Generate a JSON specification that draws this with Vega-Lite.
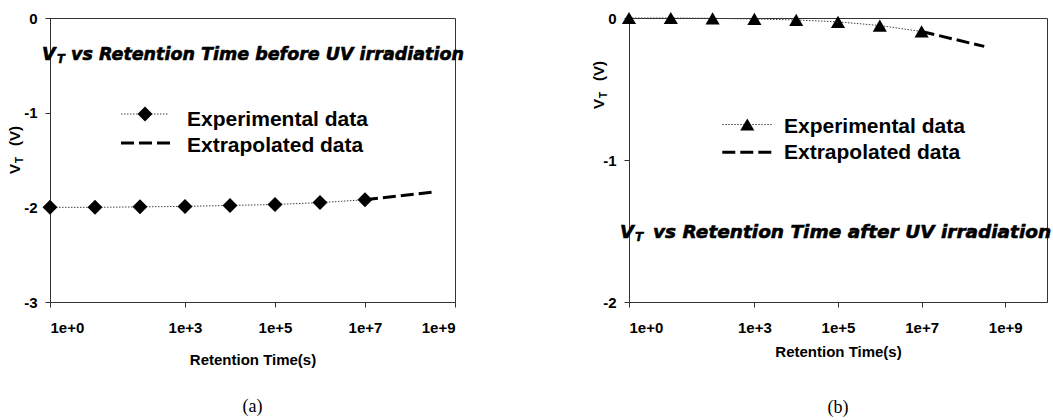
{
  "$schema": "https://vega.github.io/schema/vega-lite/v6.json",
  "background": "white",
  "padding": {"left": 7, "top": 10, "right": 0, "bottom": 0},
  "spacing": 174,
  "bounds": "flush",
  "config": {
    "view": {"stroke": "#333", "strokeWidth": 1},
    "axis": {
      "grid": false, "domainColor": "#333", "tickColor": "#333", "tickSize": 5,
      "labelFont": "Liberation Sans", "labelFontSize": 15, "labelFontWeight": "bold", "labelColor": "black",
      "titleFont": "Liberation Sans", "titleFontSize": 15, "titleFontWeight": "bold", "titleColor": "black"
    },
    "axisX": {"labelPadding": 13, "titlePadding": 17},
    "axisY": {"labelPadding": 8}
  },
  "datasets": {
    "a": [
      {"t": 1, "vt": -2.0, "series": "Experimental"},
      {"t": 10, "vt": -2.0, "series": "Experimental"},
      {"t": 100, "vt": -1.995, "series": "Experimental"},
      {"t": 1000, "vt": -1.99, "series": "Experimental"},
      {"t": 10000, "vt": -1.98, "series": "Experimental"},
      {"t": 100000, "vt": -1.97, "series": "Experimental"},
      {"t": 1000000, "vt": -1.95, "series": "Experimental"},
      {"t": 10000000, "vt": -1.92, "series": "Experimental"},
      {"t": 10000000, "vt": -1.92, "series": "Extrapolated"},
      {"t": 315000000, "vt": -1.84, "series": "Extrapolated"}
    ],
    "b": [
      {"t": 1, "vt": 0, "series": "Experimental"},
      {"t": 10, "vt": 0, "series": "Experimental"},
      {"t": 100, "vt": -0.002, "series": "Experimental"},
      {"t": 1000, "vt": -0.007, "series": "Experimental"},
      {"t": 10000, "vt": -0.014, "series": "Experimental"},
      {"t": 100000, "vt": -0.027, "series": "Experimental"},
      {"t": 1000000, "vt": -0.053, "series": "Experimental"},
      {"t": 10000000, "vt": -0.095, "series": "Experimental"},
      {"t": 10000000, "vt": -0.095, "series": "Extrapolated"},
      {"t": 315000000, "vt": -0.2, "series": "Extrapolated"}
    ],
    "one": [{"t": 1, "vt": 0}]
  },
  "hconcat": [
    {
      "width": 405, "height": 284,
      "data": {"name": "a"},
      "title": {"text": "(a)", "orient": "bottom", "frame": "group", "anchor": "middle", "font": "Liberation Serif", "fontSize": 18, "fontWeight": "normal", "color": "black", "offset": 31},
      "encoding": {
        "x": {"field": "t", "type": "quantitative", "scale": {"type": "log", "domain": [1, 1000000000]},
              "axis": {"values": [1, 1000, 100000, 10000000, 1000000000], "labelExpr": "'1e+' + round(log(datum.value)/LN10)", "title": "Retention Time(s)"}},
        "y": {"field": "vt", "type": "quantitative", "scale": {"domain": [-3, 0]},
              "axis": {"values": [-3, -2, -1, 0], "labelExpr": "'' + datum.value", "title": null}}
      },
      "layer": [
        {"transform": [{"filter": "datum.series == 'Experimental'"}],
         "mark": {"type": "line", "strokeDash": [1.5, 1.5], "color": "#444", "strokeWidth": 1}},
        {"transform": [{"filter": "datum.series == 'Extrapolated'"}],
         "mark": {"type": "line", "strokeDash": [13, 5], "color": "black", "strokeWidth": 3}},
        {"transform": [{"filter": "datum.series == 'Experimental'"}],
         "mark": {"type": "point", "shape": "diamond", "filled": true, "color": "black", "size": 225, "opacity": 1}},
        {"data": {"name": "one"},
         "mark": {"type": "rule", "strokeDash": [1.5, 1.5], "color": "#444", "strokeWidth": 1},
         "encoding": {"x": {"datum": 37.8}, "x2": {"datum": 441}, "y": {"datum": -1.014}}},
        {"data": {"name": "one"},
         "mark": {"type": "point", "shape": "diamond", "filled": true, "color": "black", "size": 225, "opacity": 1},
         "encoding": {"x": {"datum": 129}, "y": {"datum": -1.014}}},
        {"data": {"name": "one"},
         "mark": {"type": "rule", "strokeDash": [13, 5], "color": "black", "strokeWidth": 3},
         "encoding": {"x": {"datum": 37.8}, "x2": {"datum": 489}, "y": {"datum": -1.32}}},
        {"data": {"name": "one"},
         "mark": {"type": "text", "text": "Experimental data", "align": "left", "baseline": "alphabetic", "font": "Liberation Sans", "fontWeight": "bold", "fontSize": 21, "color": "black"},
         "encoding": {"x": {"datum": 1108}, "y": {"datum": -1.144}}},
        {"data": {"name": "one"},
         "mark": {"type": "text", "text": "Extrapolated data", "align": "left", "baseline": "alphabetic", "font": "Liberation Sans", "fontWeight": "bold", "fontSize": 21, "color": "black"},
         "encoding": {"x": {"datum": 1108}, "y": {"datum": -1.419}}},
        {"data": {"name": "one"},
         "mark": {"type": "text", "text": "V", "align": "left", "baseline": "alphabetic", "dx": -8, "font": "DejaVu Sans", "fontWeight": "bold", "fontStyle": "italic", "fontSize": 17.5, "color": "black", "stroke": "black", "strokeWidth": 0.6},
         "encoding": {"x": {"datum": 1}, "y": {"datum": -0.444}}},
        {"data": {"name": "one"},
         "mark": {"type": "text", "text": "T", "align": "left", "baseline": "alphabetic", "dx": 7, "dy": 3, "font": "DejaVu Sans", "fontWeight": "bold", "fontStyle": "italic", "fontSize": 11.5, "color": "black", "stroke": "black", "strokeWidth": 0.4},
         "encoding": {"x": {"datum": 1}, "y": {"datum": -0.444}}},
        {"data": {"name": "one"},
         "mark": {"type": "text", "text": "vs Retention Time before UV irradiation", "align": "left", "baseline": "alphabetic", "dx": 21, "font": "DejaVu Sans", "fontWeight": "bold", "fontStyle": "italic", "fontSize": 17.5, "color": "black", "stroke": "black", "strokeWidth": 0.6},
         "encoding": {"x": {"datum": 1}, "y": {"datum": -0.444}}},
        {"data": {"name": "one"},
         "mark": {"type": "text", "text": "V", "angle": 270, "align": "left", "baseline": "alphabetic", "font": "Liberation Sans", "fontWeight": "bold", "fontSize": 15, "color": "black"},
         "encoding": {"x": {"datum": 0.2154}, "y": {"datum": -1.648}}},
        {"data": {"name": "one"},
         "mark": {"type": "text", "text": "T", "angle": 270, "align": "left", "baseline": "alphabetic", "dx": 11, "dy": 3, "font": "Liberation Sans", "fontWeight": "bold", "fontSize": 10, "color": "black"},
         "encoding": {"x": {"datum": 0.2154}, "y": {"datum": -1.648}}},
        {"data": {"name": "one"},
         "mark": {"type": "text", "text": "(V)", "angle": 270, "align": "left", "baseline": "alphabetic", "dx": 28, "font": "Liberation Sans", "fontWeight": "bold", "fontSize": 15, "color": "black"},
         "encoding": {"x": {"datum": 0.2154}, "y": {"datum": -1.648}}}
      ]
    },
    {
      "width": 418, "height": 284,
      "data": {"name": "b"},
      "title": {"text": "(b)", "orient": "bottom", "frame": "group", "anchor": "middle", "font": "Liberation Serif", "fontSize": 18, "fontWeight": "normal", "color": "black", "offset": 40},
      "encoding": {
        "x": {"field": "t", "type": "quantitative", "scale": {"type": "log", "domain": [1, 10000000000]},
              "axis": {"values": [1, 1000, 100000, 10000000, 1000000000], "labelExpr": "'1e+' + round(log(datum.value)/LN10)", "title": "Retention Time(s)", "titlePadding": 9}},
        "y": {"field": "vt", "type": "quantitative", "scale": {"domain": [-2, 0]},
              "axis": {"values": [-2, -1, 0], "labelExpr": "'' + datum.value", "title": null}}
      },
      "layer": [
        {"transform": [{"filter": "datum.series == 'Experimental'"}],
         "mark": {"type": "line", "strokeDash": [1.5, 1.5], "color": "#444", "strokeWidth": 1}},
        {"transform": [{"filter": "datum.series == 'Extrapolated'"}],
         "mark": {"type": "line", "strokeDash": [13, 5], "color": "black", "strokeWidth": 3}},
        {"transform": [{"filter": "datum.series == 'Experimental'"}],
         "mark": {"type": "point", "shape": "triangle-up", "filled": true, "color": "black", "size": 200, "opacity": 1}},
        {"data": {"name": "one"},
         "mark": {"type": "rule", "strokeDash": [1.5, 1.5], "color": "#444", "strokeWidth": 1},
         "encoding": {"x": {"datum": 170.6}, "x2": {"datum": 2680}, "y": {"datum": -0.75}}},
        {"data": {"name": "one"},
         "mark": {"type": "point", "shape": "triangle-up", "filled": true, "color": "black", "size": 200, "opacity": 1},
         "encoding": {"x": {"datum": 676}, "y": {"datum": -0.75}}},
        {"data": {"name": "one"},
         "mark": {"type": "rule", "strokeDash": [13, 5], "color": "black", "strokeWidth": 3},
         "encoding": {"x": {"datum": 170.6}, "x2": {"datum": 2680}, "y": {"datum": -0.946}}},
        {"data": {"name": "one"},
         "mark": {"type": "text", "text": "Experimental data", "align": "left", "baseline": "alphabetic", "font": "Liberation Sans", "fontWeight": "bold", "fontSize": 21, "color": "black"},
         "encoding": {"x": {"datum": 5107}, "y": {"datum": -0.81}}},
        {"data": {"name": "one"},
         "mark": {"type": "text", "text": "Extrapolated data", "align": "left", "baseline": "alphabetic", "font": "Liberation Sans", "fontWeight": "bold", "fontSize": 21, "color": "black"},
         "encoding": {"x": {"datum": 5107}, "y": {"datum": -0.993}}},
        {"data": {"name": "one"},
         "mark": {"type": "text", "text": "V", "align": "left", "baseline": "alphabetic", "dx": -9, "font": "DejaVu Sans", "fontWeight": "bold", "fontStyle": "italic", "fontSize": 18, "color": "black", "stroke": "black", "strokeWidth": 0.6},
         "encoding": {"x": {"datum": 1}, "y": {"datum": -1.549}}},
        {"data": {"name": "one"},
         "mark": {"type": "text", "text": "T", "align": "left", "baseline": "alphabetic", "dx": 6, "dy": 3, "font": "DejaVu Sans", "fontWeight": "bold", "fontStyle": "italic", "fontSize": 12, "color": "black", "stroke": "black", "strokeWidth": 0.4},
         "encoding": {"x": {"datum": 1}, "y": {"datum": -1.549}}},
        {"data": {"name": "one"},
         "mark": {"type": "text", "text": "vs Retention Time after UV irradiation", "align": "left", "baseline": "alphabetic", "dx": 24, "font": "DejaVu Sans", "fontWeight": "bold", "fontStyle": "italic", "fontSize": 18.5, "color": "black", "stroke": "black", "strokeWidth": 0.6},
         "encoding": {"x": {"datum": 1}, "y": {"datum": -1.549}}},
        {"data": {"name": "one"},
         "mark": {"type": "text", "text": "V", "angle": 270, "align": "left", "baseline": "alphabetic", "font": "Liberation Sans", "fontWeight": "bold", "fontSize": 15, "color": "black"},
         "encoding": {"x": {"datum": 0.252}, "y": {"datum": -0.641}}},
        {"data": {"name": "one"},
         "mark": {"type": "text", "text": "T", "angle": 270, "align": "left", "baseline": "alphabetic", "dx": 11, "dy": 3, "font": "Liberation Sans", "fontWeight": "bold", "fontSize": 10, "color": "black"},
         "encoding": {"x": {"datum": 0.252}, "y": {"datum": -0.641}}},
        {"data": {"name": "one"},
         "mark": {"type": "text", "text": "(V)", "angle": 270, "align": "left", "baseline": "alphabetic", "dx": 28, "font": "Liberation Sans", "fontWeight": "bold", "fontSize": 15, "color": "black"},
         "encoding": {"x": {"datum": 0.252}, "y": {"datum": -0.641}}}
      ]
    }
  ]
}
